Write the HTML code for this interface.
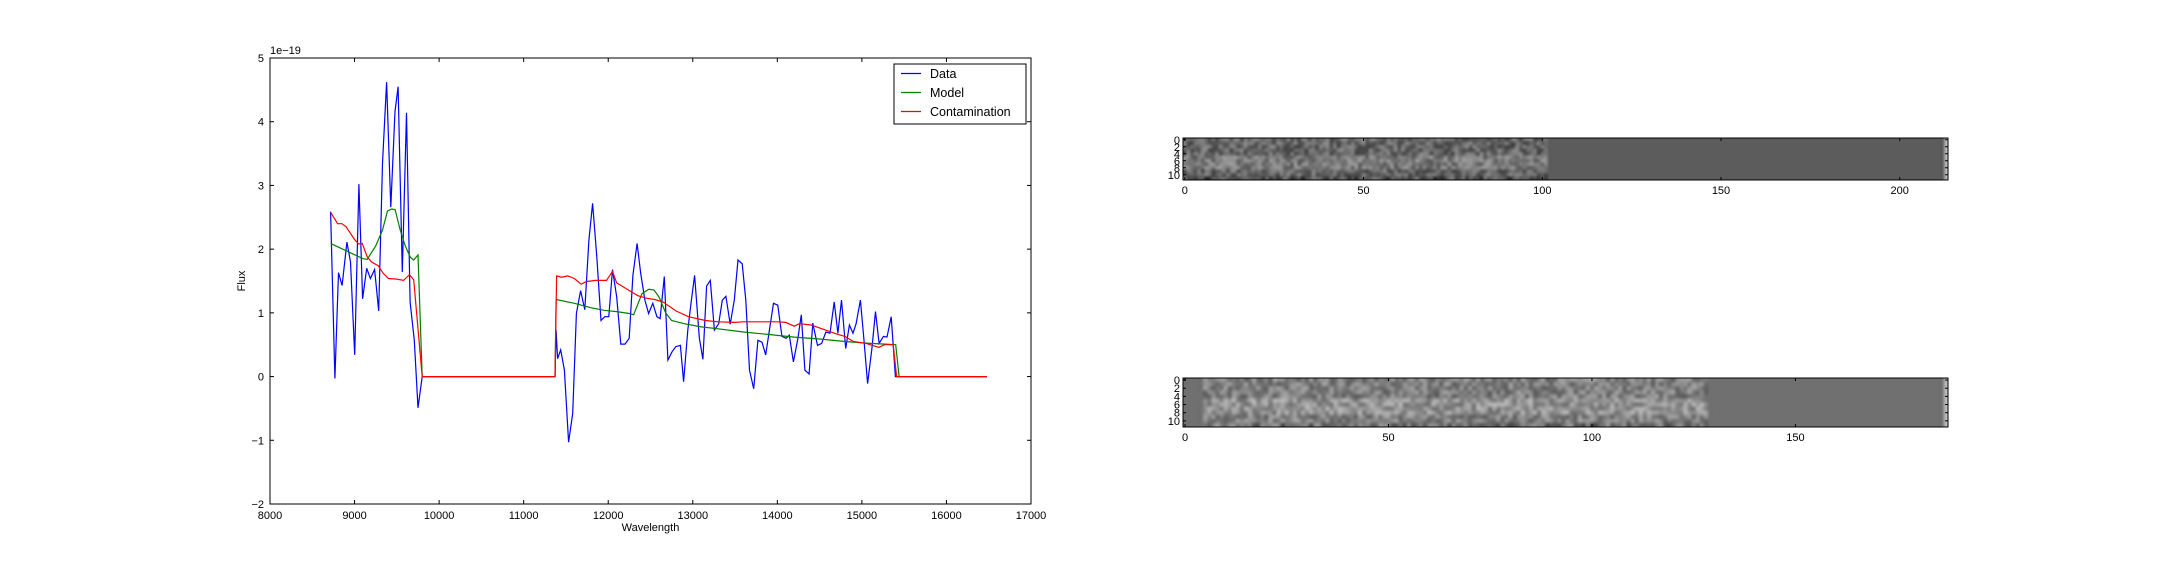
<!DOCTYPE html>
<html><head><meta charset="utf-8">
<style>
html,body{margin:0;padding:0;background:#fff;}
#wrap{position:relative;width:2160px;height:576px;overflow:hidden;font-family:"Liberation Sans",sans-serif;}
canvas{position:absolute;}
svg{position:absolute;left:0;top:0;}
</style></head>
<body>
<div id="wrap">
<canvas id="img1" width="765" height="42" style="left:1183px;top:138px;width:765px;height:42px"></canvas>
<canvas id="img2" width="765" height="49" style="left:1183px;top:378px;width:765px;height:49px"></canvas>
<svg id="svg" width="2160" height="576" xmlns="http://www.w3.org/2000/svg"></svg>
</div>
<script>
// ---- spectrum data ----
const dataX = [8717,8767,8810,8853,8909,8952,9002,9051,9095,9144,9187,9237,9286,9330,9379,9429,9478,9515,9565,9614,9657,9707,9750,9800,11370,
11383,11401,11438,11482,11531,11580,11624,11673,11723,11772,11815,11865,11914,11958,12007,12050,12100,12149,12199,12248,12292,12341,12384,12434,12477,12527,12576,12613,12663,12706,12755,12799,12854,12892,12941,12984,13021,13077,13120,13164,13207,13256,13306,13349,13392,13442,13491,13535,13584,13627,13671,13720,13770,13819,13862,13906,13955,14005,14054,14104,14141,14190,14240,14283,14326,14376,14419,14475,14524,14574,14623,14672,14716,14759,14809,14852,14895,14932,14982,15025,15068,15118,15161,15204,15254,15297,15347,15396,15439,16480];
const dataY = [2.59,-0.03,1.63,1.43,2.11,1.80,0.34,3.02,1.22,1.70,1.54,1.68,1.03,3.35,4.62,2.66,4.16,4.55,1.64,4.14,1.17,0.57,-0.49,0,0,
0.73,0.28,0.42,0.10,-1.03,-0.58,0.99,1.35,1.05,2.14,2.72,1.88,0.88,0.94,0.94,1.68,1.25,0.51,0.51,0.60,1.59,2.09,1.62,1.20,0.99,1.15,0.94,0.91,1.57,0.26,0.39,0.47,0.49,-0.08,0.73,1.20,1.59,0.61,0.27,1.42,1.51,0.73,0.83,1.20,1.26,0.82,1.20,1.83,1.77,1.20,0.10,-0.19,0.57,0.54,0.34,0.73,1.15,1.12,0.63,0.60,0.65,0.23,0.57,0.97,0.10,0.04,0.84,0.49,0.52,0.70,0.68,1.17,0.68,1.20,0.44,0.81,0.68,0.83,1.20,0.57,-0.11,0.44,1.02,0.52,0.63,0.62,0.94,0,0,0];
const modelX = [8717,9100,9150,9250,9330,9390,9440,9480,9540,9600,9660,9700,9750,9800,11370,11383,11600,11800,11950,12100,12250,12300,12400,12480,12540,12600,12680,12750,12900,13100,13300,13600,13900,14200,14500,14800,15100,15400,15440,16480];
const modelY = [2.09,1.85,1.84,2.05,2.30,2.60,2.63,2.62,2.30,2.05,1.87,1.83,1.91,0,0,1.21,1.15,1.08,1.04,1.02,0.99,0.97,1.30,1.37,1.36,1.25,1.00,0.88,0.83,0.78,0.75,0.70,0.66,0.62,0.59,0.55,0.52,0.50,0,0];
const contX = [8717,8800,8850,8900,9000,9050,9090,9150,9200,9280,9340,9400,9500,9580,9650,9700,9800,11370,11390,11450,11520,11600,11680,11740,11850,11980,12050,12100,12250,12350,12450,12550,12650,12800,12950,13150,13300,13500,13600,13800,14000,14100,14200,14260,14400,14550,14700,14800,14900,15050,15200,15270,15370,15410,16480];
const contY = [2.58,2.40,2.40,2.35,2.15,2.08,2.09,1.88,1.80,1.74,1.62,1.54,1.53,1.51,1.60,1.52,0,0,1.58,1.56,1.58,1.54,1.45,1.49,1.51,1.51,1.65,1.47,1.35,1.27,1.23,1.21,1.17,1.03,0.94,0.88,0.86,0.85,0.86,0.86,0.86,0.85,0.79,0.83,0.81,0.74,0.67,0.63,0.55,0.52,0.46,0.50,0.50,0,0];
const xTicks = [8000,9000,10000,11000,12000,13000,14000,15000,16000,17000];
const yTicks = [-2,-1,0,1,2,3,4,5];
const img1Ticks = [0,50,100,150,200];
const img2Ticks = [0,50,100,150];
const rowTicks = [0,2,4,6,8,10];
// heatmap column-mean profiles (brightness 0..1)
const img1Cols = 214, img1SignalEnd = 102, img1Bg = 0.36, img1Mean = 0.40;
const img2Cols = 188, img2SignalStart = 5, img2SignalEnd = 129, img2Bg = 0.44, img2Mean = 0.50;

const NS = "http://www.w3.org/2000/svg";
const svg = document.getElementById('svg');
function mk(tag, attrs, parent){const e=document.createElementNS(NS,tag);for(const k in attrs)e.setAttribute(k,attrs[k]);(parent||svg).appendChild(e);return e;}
function txt(s, attrs, parent){const e=mk('text',attrs,parent);e.textContent=s;return e;}

// main axes
const L=270,R=1031,T=58,B=504;
const xs=v=>L+(v-8000)/9000*(R-L);
const ys=v=>B-(v+2)/7*(B-T);
const gMain = mk('g',{});


function line(xa,ya,color,name){
  const p=mk('polyline',{fill:'none',stroke:color,'stroke-width':1.2,points:xa.map((x,i)=>xs(x).toFixed(1)+','+ys(ya[i]).toFixed(1)).join(' ')},gMain);
  
  
}
line(dataX,dataY,'#0000ff','data-line');
line(modelX,modelY,'#008000','model-line');
line(contX,contY,'#ff0000','contamination-line');
mk('rect',{x:L,y:T,width:R-L,height:B-T,fill:'none',stroke:'#000','stroke-width':1},gMain);
xTicks.forEach(v=>{const x=xs(v);
  mk('line',{x1:x,x2:x,y1:B,y2:B-4,stroke:'#000'},gMain);mk('line',{x1:x,x2:x,y1:T,y2:T+4,stroke:'#000'},gMain);
  const t=txt(String(v),{x:x,y:B+15,'font-size':11,'text-anchor':'middle'},gMain);
  
  });
yTicks.forEach(v=>{const y=ys(v);
  mk('line',{x1:L,x2:L+4,y1:y,y2:y,stroke:'#000'},gMain);mk('line',{x1:R,x2:R-4,y1:y,y2:y,stroke:'#000'},gMain);
  const t=txt(v<0?'\u2212'+(-v):String(v),{x:L-6,y:y+4,'font-size':11,'text-anchor':'end'},gMain);
  
  });
const off=txt('1e\u221219',{x:L,y:T-4,'font-size':11},gMain);


const xl=txt('Wavelength',{x:(L+R)/2,y:531,'font-size':11,'text-anchor':'middle'},gMain);


const yl=txt('Flux',{x:0,y:0,'font-size':11,'text-anchor':'middle',transform:'translate(245,281) rotate(-90)'},gMain);


// legend
const lg=mk('g',{},gMain);


mk('rect',{x:894,y:64,width:132,height:60,fill:'#fff',stroke:'#000','stroke-width':1},lg);
[['Data','#0000ff'],['Model','#008000'],['Contamination','#ff0000']].forEach((d,i)=>{
  const y=73.5+i*19;
  mk('line',{x1:901,x2:921,y1:y,y2:y,stroke:d[1],'stroke-width':1.2},lg);
  const t=txt(d[0],{x:930,y:y+4.5,'font-size':12.5},lg);
  
  
});

// image axes
function imgAxes(top,h,cols,ticks,name){
  const g=mk('g',{});
  
  
  const l=1183,w=765,s=w/cols;
  mk('rect',{x:l,y:top,width:w,height:h,fill:'none',stroke:'#000','stroke-width':1},g);
  ticks.forEach(v=>{const x=l+(v+0.5)*s;
    mk('line',{x1:x,x2:x,y1:top+h,y2:top+h-3,stroke:'#000'},g);mk('line',{x1:x,x2:x,y1:top,y2:top+3,stroke:'#000'},g);
    const t=txt(String(v),{x:x,y:top+h+14,'font-size':11,'text-anchor':'middle'},g);
    
    });
  const rs=h/12;
  rowTicks.forEach(v=>{const y=top+(v+0.5)*rs;
    mk('line',{x1:l,x2:l+3,y1:y,y2:y,stroke:'#000'},g);mk('line',{x1:l+w,x2:l+w-3,y1:y,y2:y,stroke:'#000'},g);
    const t=txt(String(v),{x:l-3,y:y+4,'font-size':11,'text-anchor':'end'},g);
    
    });
}
imgAxes(138,42,img1Cols,img1Ticks,'top-image-axes');
imgAxes(378,49,img2Cols,img2Ticks,'bottom-image-axes');

// heatmap textures (deterministic hash texture around column means)
function hash(i,j,seed){let h=(i*374761393+j*668265263+seed*982451653)|0;h=(h^(h>>>13))*1274126177|0;return ((h^(h>>>16))>>>0)/4294967295;}
function drawImg(id,cols,s0,s1,bg,mean,seed){
  const c=document.getElementById(id),ctx=c.getContext('2d');
  const sm=document.createElement('canvas');sm.width=cols;sm.height=12;
  const sx=sm.getContext('2d'),im=sx.createImageData(cols,12);
  for(let j=0;j<12;j++)for(let i=0;i<cols;i++){
    let v=bg;
    if(i>=s0&&i<s1){v=mean+(hash(i,j,seed)-0.5)*0.3;if(j>=5&&j<=8)v+=0.08;if(j===11)v-=0.15*hash(i,99,seed);}
    if(i===cols-1)v=0.75;
    v=Math.max(0,Math.min(1,v));const g=Math.round(v*255);const k=(j*cols+i)*4;
    im.data[k]=im.data[k+1]=im.data[k+2]=g;im.data[k+3]=255;}
  sx.putImageData(im,0,0);
  ctx.imageSmoothingEnabled=true;ctx.imageSmoothingQuality='high';ctx.drawImage(sm,0,0,c.width,c.height);
}
drawImg('img1',img1Cols,0,img1SignalEnd,img1Bg,img1Mean,1);
drawImg('img2',img2Cols,img2SignalStart,img2SignalEnd,img2Bg,img2Mean,2);
</script>
</body></html>
